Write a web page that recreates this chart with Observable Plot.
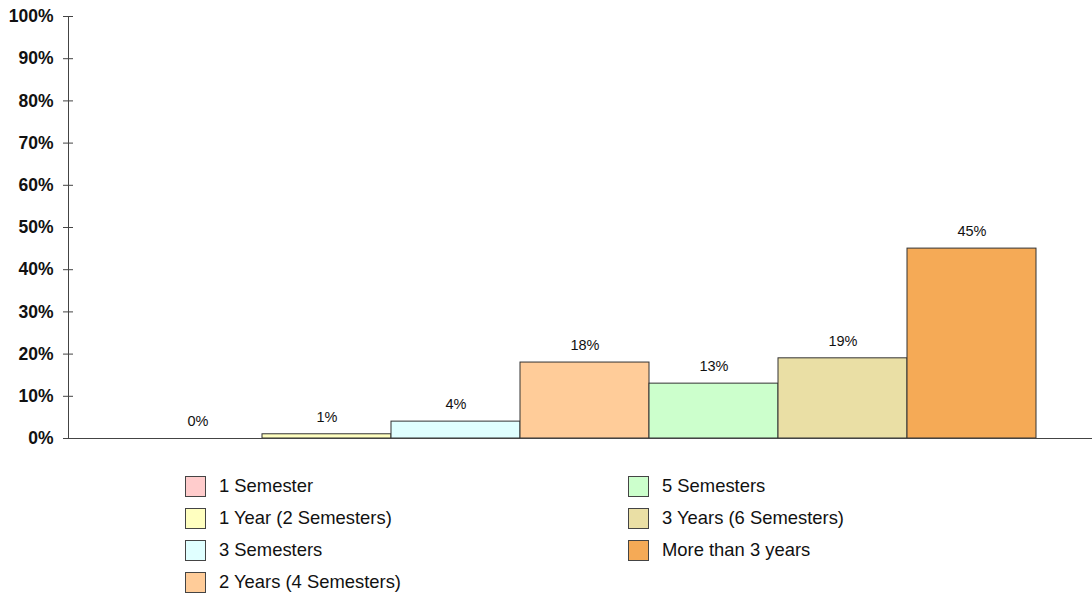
<!DOCTYPE html>
<html>
<head>
<meta charset="utf-8">
<script src="https://cdn.jsdelivr.net/npm/d3@7"></script>
<script src="https://cdn.jsdelivr.net/npm/@observablehq/plot@0.6"></script>
<style>
  html, body { margin: 0; padding: 0; background: #fff; }
  body { font-family: "Liberation Sans", Arial, sans-serif; }
  #chart svg { display: block; }
  #legend { position: relative; width: 1092px; height: 138px; }
  .item { position: absolute; display: flex; align-items: center; font-size: 18.4px; color: #111; }
  .sw { width: 21px; height: 21px; border: 1px solid #444; box-sizing: border-box; margin-right: 13px; }
</style>
</head>
<body>
<div id="chart"></div>
<div id="legend"></div>
<script>
const categories = ["1 Semester", "1 Year (2 Semesters)", "3 Semesters", "2 Years (4 Semesters)", "5 Semesters", "3 Years (6 Semesters)", "More than 3 years"];
const values = [0, 1, 4, 18, 13, 19, 45];
const colors = ["#FFCCCC", "#FFFFC0", "#E0FFFF", "#FFCC99", "#CCFFCC", "#EADFA5", "#F5AA56"];
const yTicks = [0, 10, 20, 30, 40, 50, 60, 70, 80, 90, 100];

const data = categories.map((c, i) => ({category: c, value: values[i]}));

const W = 1092, H = 460, ML = 68;
const chart = Plot.plot({
  width: W,
  height: H,
  marginLeft: ML,
  marginRight: 0,
  marginTop: 16,
  marginBottom: 22,
  style: {fontFamily: "'Liberation Sans', Arial, sans-serif", background: "#fff"},
  x: {type: "band", domain: categories, range: [132, 1037], padding: 0, axis: null},
  y: {domain: [0, 100], axis: null},
  color: {domain: categories, range: colors},
  marks: [
    Plot.barY(data, {x: "category", y: "value", fill: "category", stroke: "#333", strokeWidth: 1}),
    Plot.text(data, {x: "category", y: "value", text: d => d.value + "%", dy: -17, fontSize: 14.5, fill: "#111"}),
    Plot.ruleY(yTicks, {y: d => d, insetLeft: -5, insetRight: W - ML - 5, stroke: "#444"}),
    Plot.axisY(yTicks, {tickSize: 0, tickPadding: 15, label: null, tickFormat: d => d + "%", fontSize: 17.5, fontWeight: "bold", fill: "#111"}),
    Plot.frame({anchor: "left", stroke: "#444"}),
    Plot.ruleY([0], {stroke: "#444"})
  ]
});
document.getElementById("chart").appendChild(chart);

const legend = document.getElementById("legend");
const leftCol = 4;
categories.forEach((c, i) => {
  const col = i < leftCol ? 0 : 1;
  const row = i < leftCol ? i : i - leftCol;
  const el = document.createElement("div");
  el.className = "item";
  el.style.left = (col === 0 ? 185 : 628) + "px";
  el.style.top = (15 + row * 32) + "px";
  const sw = document.createElement("div");
  sw.className = "sw";
  sw.style.background = colors[i];
  const t = document.createElement("span");
  t.textContent = c;
  el.appendChild(sw);
  el.appendChild(t);
  legend.appendChild(el);
});
</script>
</body>
</html>
